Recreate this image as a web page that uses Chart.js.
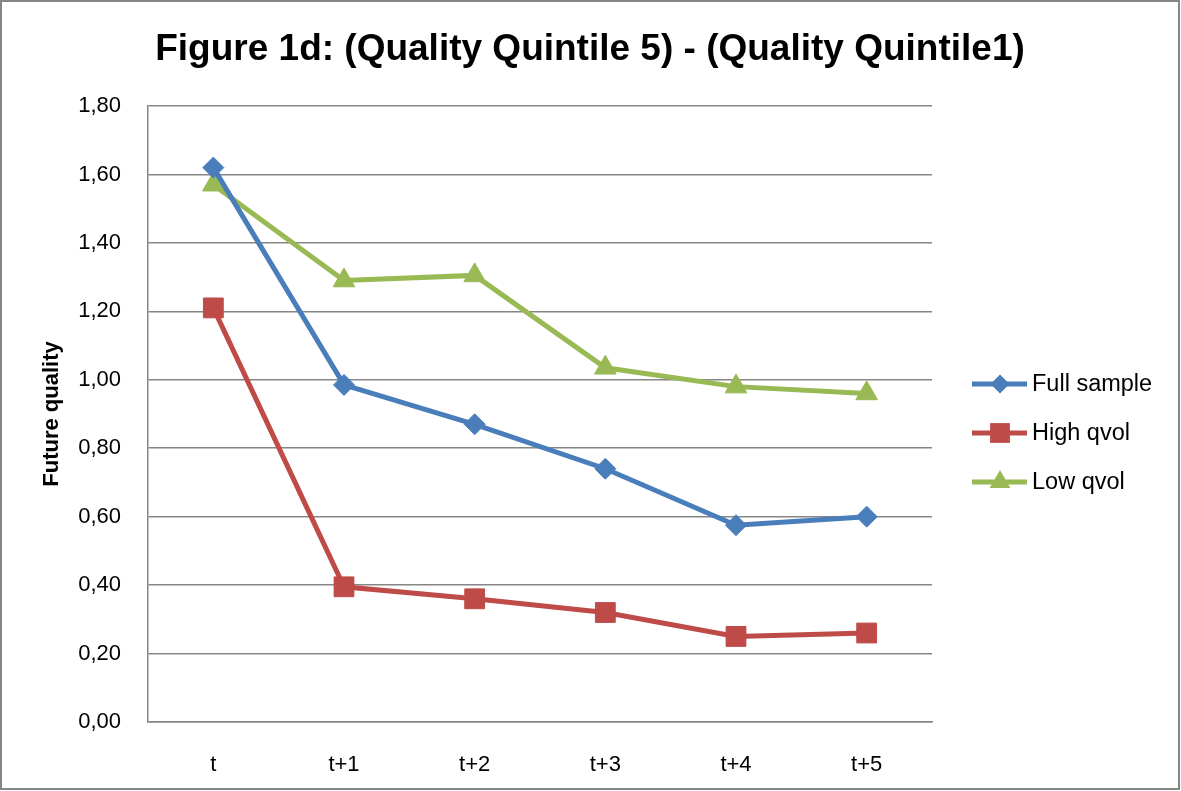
<!DOCTYPE html>
<html>
<head>
<meta charset="utf-8">
<script src="https://cdn.jsdelivr.net/npm/chart.js@4/dist/chart.umd.min.js"></script>
<style>
  html, body { margin: 0; padding: 0; background: #fff; }
  #wrap { width: 1181px; height: 791px; position: relative; }
</style>
</head>
<body>
<div id="wrap"><canvas id="c"></canvas></div>
<script>
// Periods after portfolio formation
const periods = ['t', 't+1', 't+2', 't+3', 't+4', 't+5'];

// Future quality spread, quintile 5 minus quintile 1
const fullSample = [1.62, 0.985, 0.87, 0.74, 0.575, 0.60];
const highQvol   = [1.21, 0.395, 0.36, 0.32, 0.25, 0.26];
const lowQvol    = [1.57, 1.29, 1.305, 1.035, 0.98, 0.96];

const seriesNames = ['Full sample', 'High qvol', 'Low qvol'];
const yTicks = [0, 0.2, 0.4, 0.6, 0.8, 1.0, 1.2, 1.4, 1.6, 1.8];

const titleText = 'Figure 1d: (Quality Quintile 5) - (Quality Quintile1)';
const axisTitle = 'Future quality';

const BLUE = '#4A7EBB', RED = '#BE4B48', GREEN = '#98B954', GRID = '#868686';
const FONT = '"Liberation Sans", Arial, sans-serif';

function fmt(v) { return v.toFixed(2).replace('.', ','); }

function marker(ctx, style, x, y, r, color) {
  ctx.save();
  ctx.fillStyle = color;
  ctx.beginPath();
  if (style === 'rectRot') {
    ctx.moveTo(x, y - r); ctx.lineTo(x + r, y); ctx.lineTo(x, y + r); ctx.lineTo(x - r, y);
  } else if (style === 'rect') {
    const s = r * Math.SQRT1_2;
    ctx.rect(x - s, y - s, 2 * s, 2 * s);
  } else {
    ctx.moveTo(x, y - r);
    ctx.lineTo(x + r * Math.sin(2 * Math.PI / 3), y - r * Math.cos(2 * Math.PI / 3));
    ctx.lineTo(x + r * Math.sin(4 * Math.PI / 3), y - r * Math.cos(4 * Math.PI / 3));
  }
  ctx.closePath();
  ctx.fill();
  ctx.restore();
}

// Frame, title and side legend
const decor = {
  id: 'decor',
  afterDraw(chart) {
    const ctx = chart.ctx;
    ctx.save();
    ctx.strokeStyle = GRID;
    ctx.lineWidth = 2;
    ctx.strokeRect(1, 1, 1178, 788);

    ctx.fillStyle = '#000';
    ctx.font = 'bold 37px ' + FONT;
    ctx.textAlign = 'center';
    ctx.textBaseline = 'middle';
    ctx.fillText(titleText, 590, 50);

    const rows = [384, 433, 482];
    const cols = [BLUE, RED, GREEN];
    const styles = ['rectRot', 'rect', 'triangle'];
    const radii = [9.5, 14, 12];
    ctx.font = '23.5px ' + FONT;
    ctx.textAlign = 'left';
    chart.data.datasets.forEach((ds, i) => {
      const y = rows[i];
      ctx.strokeStyle = cols[i];
      ctx.lineWidth = 5;
      ctx.beginPath();
      ctx.moveTo(972, y); ctx.lineTo(1027, y);
      ctx.stroke();
      marker(ctx, styles[i], 1000, y, radii[i], cols[i]);
      ctx.fillStyle = '#000';
      ctx.fillText(ds.label, 1032, y + 1);
    });
    ctx.restore();
  }
};

function series(label, data, color, style, radius) {
  return {
    label, data,
    borderColor: color, backgroundColor: color,
    borderWidth: 5, tension: 0,
    pointStyle: style, pointRadius: radius, pointHoverRadius: radius,
    pointBorderWidth: 1, pointBorderColor: color, pointBackgroundColor: color
  };
}

new Chart(document.getElementById('c'), {
  type: 'line',
  data: {
    labels: periods,
    datasets: [
      series(seriesNames[0], fullSample, BLUE, 'rectRot', 10.5),
      series(seriesNames[1], highQvol, RED, 'rect', 14),
      series(seriesNames[2], lowQvol, GREEN, 'triangle', 12.5)
    ]
  },
  options: {
    responsive: true,
    maintainAspectRatio: false,
    animation: false,
    layout: { padding: { left: 0, right: 249, top: 106, bottom: 0 } },
    plugins: { legend: { display: false }, title: { display: false }, tooltip: { enabled: false } },
    scales: {
      x: {
        offset: true,
        grid: { display: false },
        border: { display: true, color: GRID, width: 1.5 },
        ticks: { color: '#000', font: { family: FONT, size: 22 }, padding: 22 },
        afterFit(s) { s.height = 69; }
      },
      y: {
        min: 0, max: 1.8,
        afterBuildTicks(s) { s.ticks = yTicks.map(v => ({ value: v })); },
        grid: { color: GRID, lineWidth: 1.5, drawTicks: false },
        border: { display: true, color: GRID, width: 1.5 },
        ticks: { color: '#000', font: { family: FONT, size: 22 }, padding: 27, callback: v => fmt(v) },
        title: { display: true, text: axisTitle, color: '#000', font: { family: FONT, size: 22, weight: 'bold' }, padding: { top: 39, bottom: 0 } },
        afterFit(s) { s.width = 148; }
      }
    }
  },
  plugins: [decor]
});
</script>
</body>
</html>
